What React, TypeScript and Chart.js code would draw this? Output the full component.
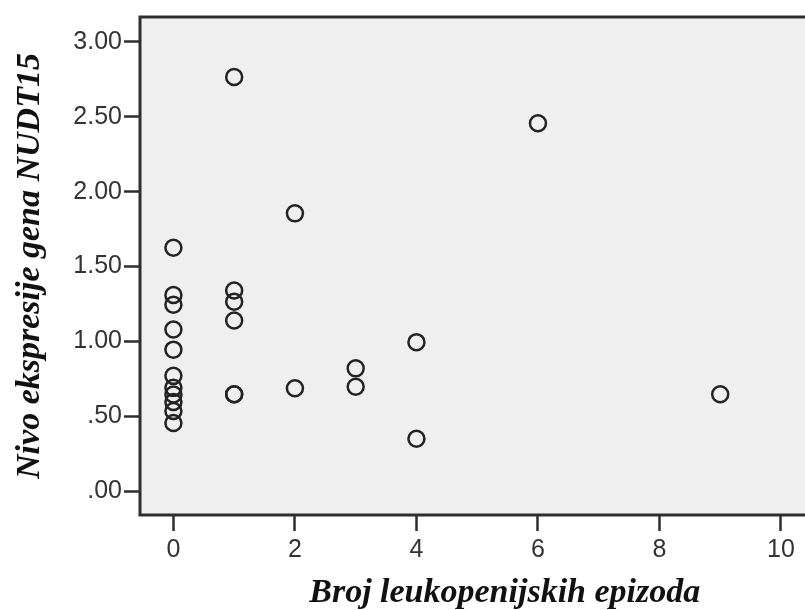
import React, { useEffect, useRef } from 'react';
import { Chart, registerables } from 'chart.js';

Chart.register(...registerables);

// Number of leukopenia episodes (x) and NUDT15 expression level (y)
const episodes = [
  0, 0, 0, 0, 0, 0, 0, 0, 0, 0, 0,
  1, 1, 1, 1, 1, 1,
  2, 2,
  3, 3,
  4, 4,
  6,
  9,
];
const expression = [
  1.625, 1.31, 1.245, 1.08, 0.945, 0.77, 0.69, 0.645, 0.595, 0.535, 0.455,
  2.765, 1.34, 1.265, 1.14, 0.647, 0.647,
  1.855, 0.687,
  0.82, 0.697,
  0.995, 0.35,
  2.457,
  0.647,
];

const xTicks = [0, 2, 4, 6, 8, 10];
const yTicks = [0, 0.5, 1, 1.5, 2, 2.5, 3];

const xTitle = 'Broj leukopenijskih epizoda';
const yTitle = 'Nivo ekspresije gena NUDT15';

const sansFont = 'Arial, "Liberation Sans", sans-serif';
const serifFont = '"Liberation Serif", "Times New Roman", serif';

const frameColor = '#2e2e2e';

const plotFrame = {
  id: 'plotFrame',
  beforeDatasetsDraw(chart: any) {
    const { ctx, chartArea } = chart;
    ctx.save();
    ctx.fillStyle = '#efefef';
    ctx.fillRect(chartArea.left, chartArea.top, chartArea.right - chartArea.left, chartArea.bottom - chartArea.top);
    ctx.restore();
  },
  afterDatasetsDraw(chart: any) {
    const { ctx, chartArea } = chart;
    ctx.save();
    ctx.strokeStyle = frameColor;
    ctx.lineWidth = 3;
    ctx.strokeRect(chartArea.left, chartArea.top, chartArea.right - chartArea.left, chartArea.bottom - chartArea.top);
    ctx.restore();
  },
};

export default function App() {
  const canvasRef = useRef<HTMLCanvasElement | null>(null);

  useEffect(() => {
    if (!canvasRef.current) return;
    const points = episodes.map((x, i) => ({ x, y: expression[i] }));
    const chart = new Chart(canvasRef.current, {
      type: 'scatter',
      data: {
        datasets: [
          {
            data: points,
            showLine: false,
            pointStyle: 'circle',
            pointRadius: 8,
            pointHoverRadius: 8,
            pointBorderWidth: 2.5,
            borderColor: '#222',
            backgroundColor: 'rgba(0,0,0,0)',
          },
        ],
      },
      options: {
        responsive: false,
        maintainAspectRatio: false,
        devicePixelRatio: 1,
        animation: false,
        layout: { padding: { top: 13, right: 10, left: 0, bottom: 0 } },
        plugins: {
          legend: { display: false },
          tooltip: { enabled: false },
        },
        scales: {
          x: {
            type: 'linear',
            min: -0.55,
            max: 11.457,
            afterBuildTicks: (s: any) => {
              s.ticks = xTicks.map((v) => ({ value: v }));
            },
            afterFit: (s: any) => {
              s.height = 95;
            },
            grid: {
              drawOnChartArea: false,
              drawTicks: true,
              tickLength: 16,
              tickWidth: 2.5,
              tickColor: frameColor,
            },
            border: { display: false },
            ticks: {
              font: { family: sansFont, size: 25 },
              color: '#333',
              padding: 4,
              maxRotation: 0,
              autoSkip: false,
              callback: (v: any) => String(v),
            },
            title: {
              display: true,
              text: xTitle,
              color: '#111',
              font: { family: serifFont, size: 34, weight: 'bold', style: 'italic', lineHeight: 1.0 },
              padding: { top: 0, bottom: 0 },
            },
          },
          y: {
            type: 'linear',
            min: -0.159,
            max: 3.166,
            afterBuildTicks: (s: any) => {
              s.ticks = yTicks.map((v) => ({ value: v }));
            },
            afterFit: (s: any) => {
              s.width = 140;
            },
            grid: {
              drawOnChartArea: false,
              drawTicks: true,
              tickLength: 16,
              tickWidth: 2.5,
              tickColor: frameColor,
            },
            border: { display: false },
            ticks: {
              font: { family: sansFont, size: 25 },
              color: '#333',
              padding: 2,
              autoSkip: false,
              callback: (v: any) => Number(v).toFixed(2).replace(/^0/, ''),
            },
            title: {
              display: true,
              text: yTitle,
              color: '#111',
              font: { family: serifFont, size: 34, weight: 'bold', style: 'italic', lineHeight: 1.2 },
              padding: { top: 10, bottom: 0 },
            },
          },
        },
      },
      plugins: [plotFrame],
    } as any);
    return () => chart.destroy();
  }, []);

  return (
    <div
      style={{
        position: 'absolute',
        left: 0,
        top: 0,
        width: 805,
        height: 610,
        overflow: 'hidden',
        background: '#fff',
      }}
    >
      <canvas ref={canvasRef} width={880} height={610} style={{ display: 'block', width: 880, height: 610 }} />
    </div>
  );
}
